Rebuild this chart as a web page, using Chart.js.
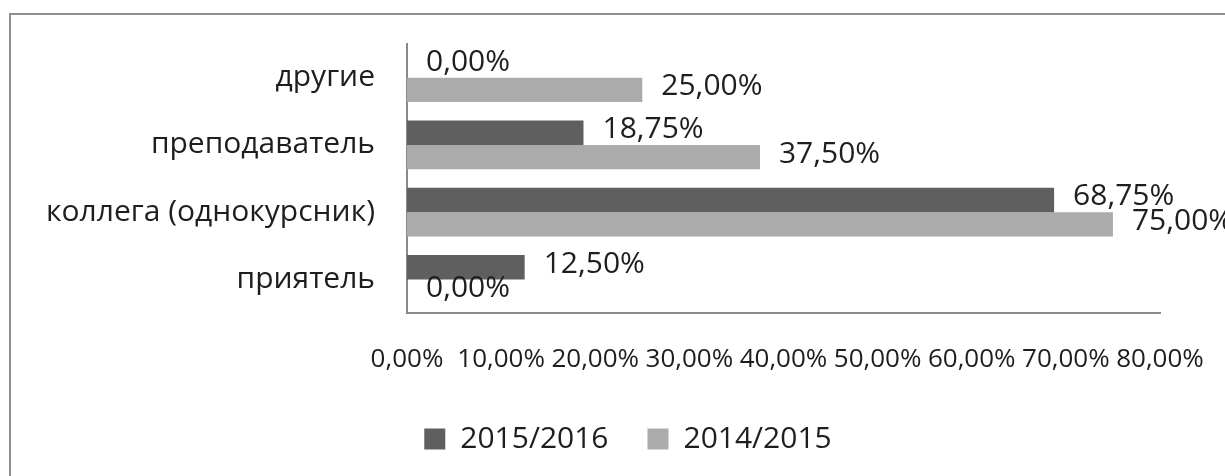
<!DOCTYPE html>
<html>
<head>
<meta charset="utf-8">
<script src="https://cdn.jsdelivr.net/npm/chart.js@4/dist/chart.umd.min.js"></script>
<style>
  html, body { margin: 0; padding: 0; background: #fff; overflow: hidden; }
  #wrap { position: relative; width: 1225px; height: 476px; overflow: hidden; }
  #frame { position: absolute; left: 9px; top: 13px; width: 1400px; height: 600px; border: 2px solid #8e8e8e; box-sizing: border-box; }
  canvas { position: absolute; left: 0; top: 0; }
</style>
</head>
<body>
<div id="wrap">
  <div id="frame"></div>
  <canvas id="c" width="1225" height="476"></canvas>
</div>
<script>
const categories = ['другие', 'преподаватель', 'коллега (однокурсник)', 'приятель'];
const seriesNames = ['2015/2016', '2014/2015'];
const values2015_2016 = [0, 18.75, 68.75, 12.5];
const values2014_2015 = [25, 37.5, 75, 0];
const xTicks = [0, 10, 20, 30, 40, 50, 60, 70, 80];

const FONT = "'Open Sans', 'Noto Sans', sans-serif";
const fmt = v => Number(v).toFixed(2).replace('.', ',') + '%';

const valueLabels = {
  id: 'valueLabels',
  afterDatasetsDraw(chart) {
    const ctx = chart.ctx;
    ctx.save();
    ctx.font = "30px " + FONT;
    ctx.fillStyle = '#1e1e1e';
    ctx.textAlign = 'left';
    ctx.textBaseline = 'middle';
    chart.data.datasets.forEach((ds, di) => {
      const meta = chart.getDatasetMeta(di);
      meta.data.forEach((el, i) => {
        ctx.fillText(fmt(ds.data[i]), el.x + 19, el.y - 3);
      });
    });
    ctx.restore();
  }
};

new Chart(document.getElementById('c'), {
  type: 'bar',
  data: {
    labels: categories,
    datasets: [
      { label: seriesNames[0], data: values2015_2016, backgroundColor: '#5f5f5f', categoryPercentage: 0.726, barPercentage: 1.0 },
      { label: seriesNames[1], data: values2014_2015, backgroundColor: '#ababab', categoryPercentage: 0.726, barPercentage: 1.0 }
    ]
  },
  options: {
    indexAxis: 'y',
    responsive: false,
    animation: false,
    layout: { padding: { top: 44, right: 0, left: 31, bottom: 12 } },
    plugins: {
      tooltip: { enabled: false },
      legend: {
        position: 'bottom',
        labels: {
          font: { family: FONT, size: 30 },
          color: '#1e1e1e',
          boxWidth: 21,
          boxHeight: 21,
          padding: 39
        }
      }
    },
    scales: {
      x: {
        min: 0, max: 80,
        afterBuildTicks: s => { s.ticks = xTicks.map(v => ({ value: v })); },
        afterFit: s => { s.height = 72; s.paddingLeft = 0; s.paddingRight = 0; },
        ticks: {
          callback: v => fmt(v),
          font: { family: FONT, size: 26 },
          color: '#1e1e1e',
          padding: 31,
          maxRotation: 0,
          autoSkip: false
        },
        grid: { display: false, drawTicks: false },
        border: { display: true, color: '#8a8a8a', width: 2 }
      },
      y: {
        afterFit: s => { s.width = 376; s.paddingTop = 0; s.paddingBottom = 0; },
        ticks: {
          font: { family: FONT, size: 30 },
          color: '#1e1e1e',
          padding: 32
        },
        grid: { display: false, drawTicks: false },
        border: { display: true, color: '#8a8a8a', width: 2 }
      },
      yRight: {
        type: 'linear',
        position: 'right',
        afterFit: s => { s.width = 65; s.paddingTop = 0; s.paddingBottom = 0; },
        ticks: { display: false },
        grid: { display: false, drawTicks: false },
        border: { display: false }
      }
    }
  },
  plugins: [valueLabels]
});
</script>
</body>
</html>
